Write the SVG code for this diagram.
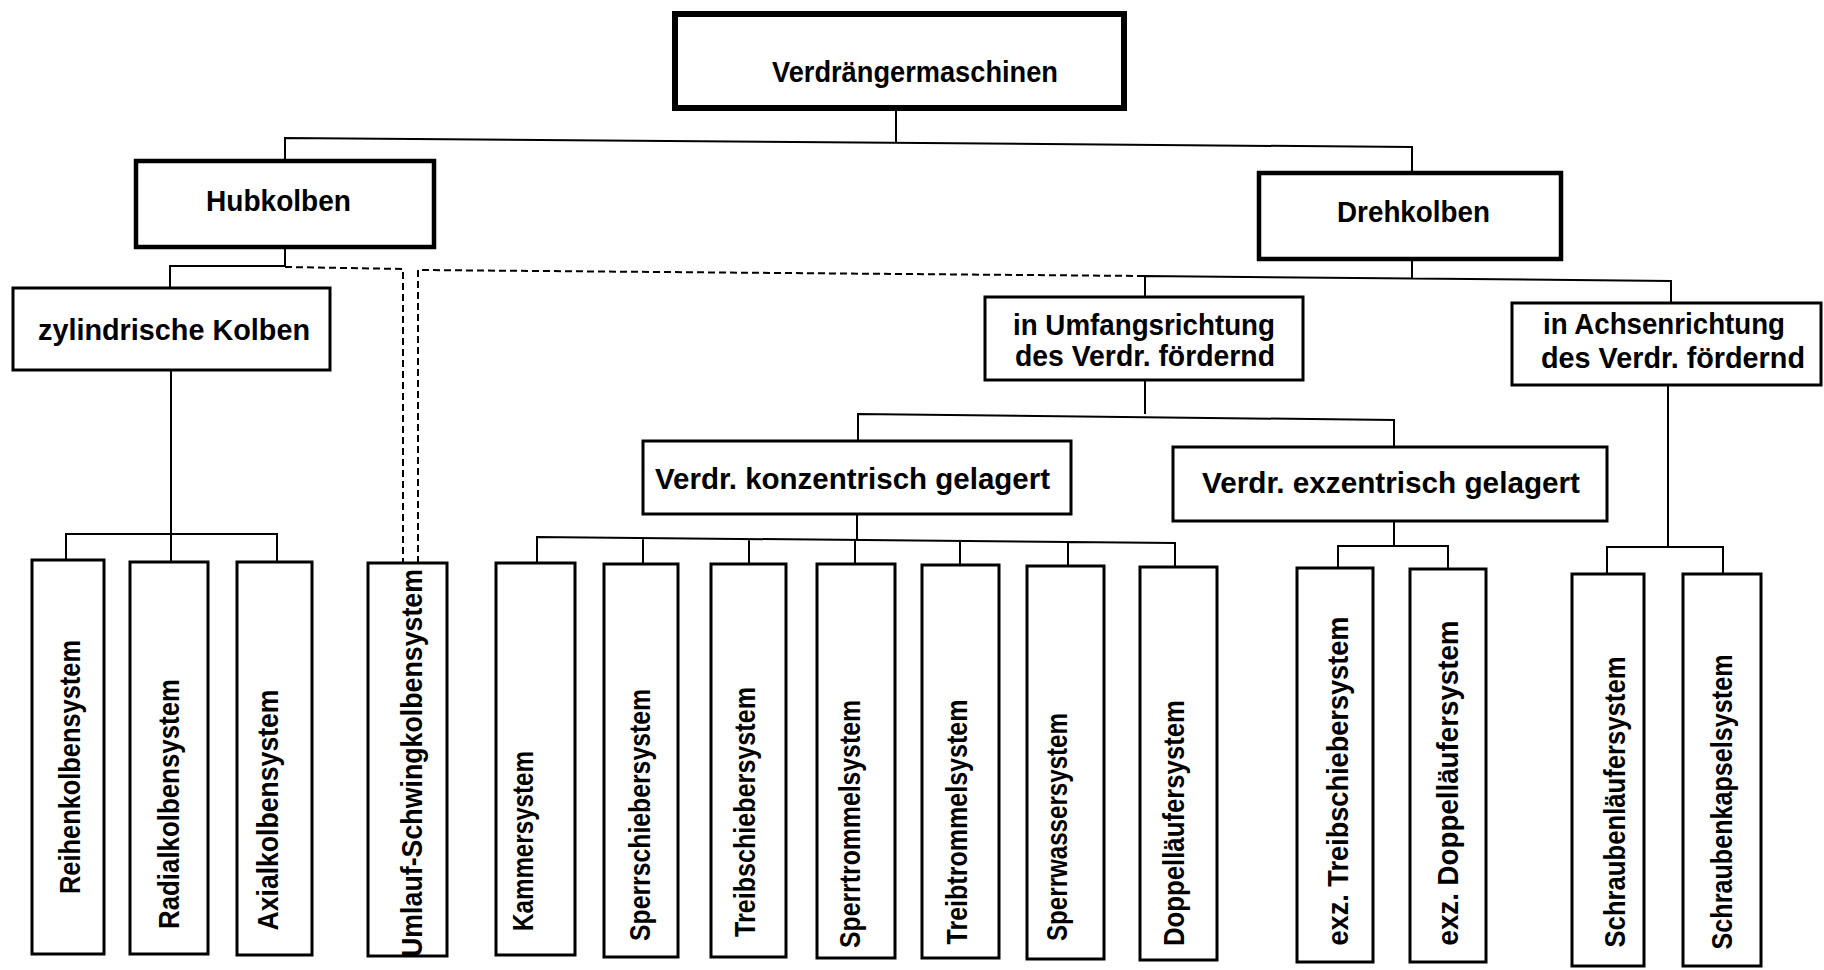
<svg xmlns="http://www.w3.org/2000/svg" width="1824" height="970" viewBox="0 0 1824 970">
<style>
.b{fill:#fff;stroke:#000;stroke-width:3}
.b1{stroke-width:6}
.b2{stroke-width:4.5}
.t{font-family:"Liberation Sans",Arial,sans-serif;font-weight:bold;font-size:30px;fill:#000}
.v{text-anchor:middle}
.c{stroke:#000;stroke-width:2;fill:none}
.d{stroke-dasharray:7 4}
</style>
<rect width="1824" height="970" fill="#fff"/>
<g id="connectors">
<path class="c" d="M896 108V143M285 160V138L1412 147V173"/>
<path class="c" d="M285 247V267M170 288V266H285M171 370V562M66 561V534H277V562"/>
<path class="c d" d="M285 267L403 269V563M418 563V270L1145 276"/>
<path class="c" d="M1412 259V278M1145 297V276L1671 281V303"/>
<path class="c" d="M1145 380V414M858 441V414L1394 420V447"/>
<path class="c" d="M857 514V540M537 564V537L1175 543V567M643 564V538M749 564V539M855 564V540M960 565V541M1068 566V542"/>
<path class="c" d="M1394 521V546M1338 568V546H1448V569"/>
<path class="c" d="M1668 385V547M1607 574V547H1723V574"/>
</g>
<g id="n-root"><rect class="b b1" x="675" y="14" width="449" height="94"/><text class="t" x="772" y="82" textLength="286" lengthAdjust="spacingAndGlyphs">Verdrängermaschinen</text></g>
<g id="n-hubkolben"><rect class="b b2" x="136" y="161" width="298" height="86"/><text class="t" x="206" y="211" textLength="145" lengthAdjust="spacingAndGlyphs">Hubkolben</text></g>
<g id="n-drehkolben"><rect class="b b2" x="1259" y="173" width="302" height="86"/><text class="t" x="1337" y="222" textLength="153" lengthAdjust="spacingAndGlyphs">Drehkolben</text></g>
<g id="n-zylindrisch"><rect class="b" x="13" y="288" width="317" height="82"/><text class="t" x="38" y="340" textLength="272" lengthAdjust="spacingAndGlyphs">zylindrische Kolben</text></g>
<g id="n-umfang"><rect class="b" x="985" y="297" width="318" height="83"/><text class="t" x="1013" y="335" textLength="262" lengthAdjust="spacingAndGlyphs">in Umfangsrichtung</text><text class="t" x="1015" y="366" textLength="260" lengthAdjust="spacingAndGlyphs">des Verdr. fördernd</text></g>
<g id="n-achsen"><rect class="b" x="1512" y="303" width="309" height="82"/><text class="t" x="1543" y="334" textLength="242" lengthAdjust="spacingAndGlyphs">in Achsenrichtung</text><text class="t" x="1541" y="368" textLength="264" lengthAdjust="spacingAndGlyphs">des Verdr. fördernd</text></g>
<g id="n-konz"><rect class="b" x="643" y="441" width="428" height="73"/><text class="t" x="655" y="489" textLength="395" lengthAdjust="spacingAndGlyphs">Verdr. konzentrisch gelagert</text></g>
<g id="n-exz"><rect class="b" x="1173" y="447" width="434" height="74"/><text class="t" x="1202" y="493" textLength="378" lengthAdjust="spacingAndGlyphs">Verdr. exzentrisch gelagert</text></g>
<g id="n-reihen"><rect class="b" x="32" y="560" width="72" height="394"/><text class="t v" transform="translate(80 767) rotate(-90)" textLength="254" lengthAdjust="spacingAndGlyphs">Reihenkolbensystem</text></g>
<g id="n-radial"><rect class="b" x="130" y="562" width="78" height="392"/><text class="t v" transform="translate(179 804) rotate(-90)" textLength="250" lengthAdjust="spacingAndGlyphs">Radialkolbensystem</text></g>
<g id="n-axial"><rect class="b" x="237" y="562" width="75" height="393"/><text class="t v" transform="translate(278 810) rotate(-90)" textLength="241" lengthAdjust="spacingAndGlyphs">Axialkolbensystem</text></g>
<g id="n-umlauf"><rect class="b" x="368" y="563" width="79" height="393"/><text class="t v" transform="translate(422 763) rotate(-90)" textLength="388" lengthAdjust="spacingAndGlyphs">Umlauf-Schwingkolbensystem</text></g>
<g id="n-kammer"><rect class="b" x="496" y="563" width="79" height="392"/><text class="t v" transform="translate(533 841) rotate(-90)" textLength="180" lengthAdjust="spacingAndGlyphs">Kammersystem</text></g>
<g id="n-sperrschieber"><rect class="b" x="604" y="564" width="74" height="393"/><text class="t v" transform="translate(650 815) rotate(-90)" textLength="252" lengthAdjust="spacingAndGlyphs">Sperrschiebersystem</text></g>
<g id="n-treibschieber"><rect class="b" x="711" y="564" width="75" height="393"/><text class="t v" transform="translate(755 812) rotate(-90)" textLength="250" lengthAdjust="spacingAndGlyphs">Treibschiebersystem</text></g>
<g id="n-sperrtrommel"><rect class="b" x="817" y="564" width="78" height="394"/><text class="t v" transform="translate(860 824) rotate(-90)" textLength="248" lengthAdjust="spacingAndGlyphs">Sperrtrommelsystem</text></g>
<g id="n-treibtrommel"><rect class="b" x="922" y="565" width="77" height="393"/><text class="t v" transform="translate(967 822) rotate(-90)" textLength="245" lengthAdjust="spacingAndGlyphs">Treibtrommelsystem</text></g>
<g id="n-sperrwasser"><rect class="b" x="1027" y="566" width="77" height="393"/><text class="t v" transform="translate(1067 827) rotate(-90)" textLength="228" lengthAdjust="spacingAndGlyphs">Sperrwassersystem</text></g>
<g id="n-doppellaeufer"><rect class="b" x="1140" y="567" width="77" height="393"/><text class="t v" transform="translate(1184 823) rotate(-90)" textLength="246" lengthAdjust="spacingAndGlyphs">Doppelläufersystem</text></g>
<g id="n-exz-treib"><rect class="b" x="1297" y="568" width="76" height="394"/><text class="t v" transform="translate(1348 781) rotate(-90)" textLength="329" lengthAdjust="spacingAndGlyphs">exz. Treibschiebersystem</text></g>
<g id="n-exz-doppel"><rect class="b" x="1410" y="569" width="76" height="393"/><text class="t v" transform="translate(1458 783) rotate(-90)" textLength="325" lengthAdjust="spacingAndGlyphs">exz. Doppelläufersystem</text></g>
<g id="n-schraubenlaeufer"><rect class="b" x="1572" y="574" width="72" height="392"/><text class="t v" transform="translate(1625 802) rotate(-90)" textLength="291" lengthAdjust="spacingAndGlyphs">Schraubenläufersystem</text></g>
<g id="n-schraubenkapsel"><rect class="b" x="1683" y="574" width="78" height="392"/><text class="t v" transform="translate(1732 802) rotate(-90)" textLength="295" lengthAdjust="spacingAndGlyphs">Schraubenkapselsystem</text></g>
</svg>
